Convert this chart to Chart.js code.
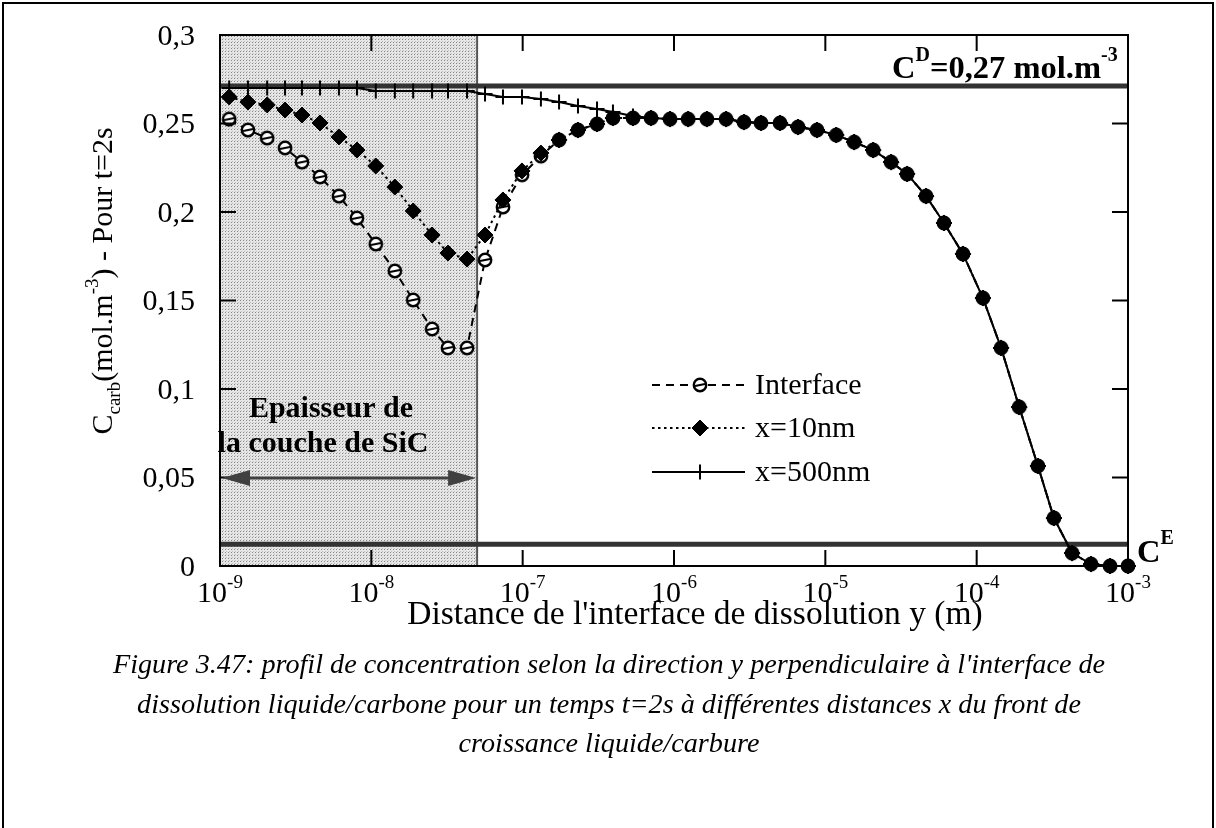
<!DOCTYPE html>
<html>
<head>
<meta charset="utf-8">
<script src="https://cdn.jsdelivr.net/npm/chart.js@4.4.1/dist/chart.umd.min.js"></script>
<style>
html,body{margin:0;padding:0;background:#fff}
canvas{display:block}
</style>
</head>
<body>
<canvas id="c" width="1216" height="828"></canvas>
<script>
// distance y (m), one value per marker
const distY = [1.15e-9, 1.53e-9, 2.05e-9, 2.69e-9, 3.48e-9, 4.58e-9, 6.11e-9, 8.04e-9,
  1.07e-8, 1.43e-8, 1.89e-8, 2.52e-8, 3.21e-8, 4.29e-8, 5.64e-8, 7.41e-8, 9.9e-8,
  1.32e-7, 1.74e-7, 2.32e-7, 3.10e-7, 3.95e-7, 5.36e-7, 7.05e-7, 9.41e-7,
  1.24e-6, 1.65e-6, 2.21e-6, 2.90e-6, 3.76e-6, 5.02e-6, 6.60e-6, 8.81e-6,
  1.18e-5, 1.55e-5, 2.07e-5, 2.72e-5, 3.47e-5, 4.63e-5, 6.08e-5, 8.12e-5,
  1.10e-4, 1.45e-4, 1.91e-4, 2.54e-4, 3.24e-4, 4.27e-4, 5.70e-4, 7.61e-4, 1.0e-3];

const interfaceC = [0.2525, 0.2463, 0.2418, 0.2362, 0.2282, 0.2198, 0.2090, 0.1966,
  0.1819, 0.1667, 0.1503, 0.1339, 0.1232, 0.1232, 0.1729, 0.2028, 0.2210,
  0.2316, 0.2407, 0.2463, 0.2497, 0.2531, 0.2531, 0.2531, 0.2525,
  0.2525, 0.2525, 0.2525, 0.2508, 0.2503, 0.2503, 0.2480, 0.2463,
  0.2435, 0.2395, 0.2350, 0.2282, 0.2215, 0.2090, 0.1938, 0.1763,
  0.1514, 0.1232, 0.0898, 0.0565, 0.0271, 0.0073, 0.0011, 0.0, 0.0];

const x10nmC = [0.2650, 0.2621, 0.2605, 0.2576, 0.2548, 0.2503, 0.2424, 0.2350,
  0.2260, 0.2141, 0.2006, 0.1870, 0.1768, 0.1734, 0.1870, 0.2068, 0.2232,
  0.2333, 0.2407, 0.2463, 0.2497, 0.2531, 0.2531, 0.2531, 0.2525,
  0.2525, 0.2525, 0.2525, 0.2508, 0.2503, 0.2503, 0.2480, 0.2463,
  0.2435, 0.2395, 0.2350, 0.2282, 0.2215, 0.2090, 0.1938, 0.1763,
  0.1514, 0.1232, 0.0898, 0.0565, 0.0271, 0.0073, 0.0011, 0.0, 0.0];

const x500nmC = [0.2701, 0.2701, 0.2701, 0.2701, 0.2701, 0.2701, 0.2701, 0.2701,
  0.2684, 0.2684, 0.2684, 0.2684, 0.2684, 0.2684, 0.2667, 0.2650, 0.2650,
  0.2638, 0.2621, 0.2599, 0.2582, 0.2565, 0.2542, 0.2531, 0.2525,
  0.2525, 0.2525, 0.2525, 0.2508, 0.2503, 0.2503, 0.2480, 0.2463,
  0.2435, 0.2395, 0.2350, 0.2282, 0.2215, 0.2090, 0.1938, 0.1763,
  0.1514, 0.1232, 0.0898, 0.0565, 0.0271, 0.0073, 0.0011, 0.0, 0.0];

const seriesNames = ['Interface', 'x=10nm', 'x=500nm'];
const cD = 0.2712;      // C^D level
const cE = 0.0123;      // C^E level
const layerEdge = 5e-8; // end of the SiC layer
const xTicks = [1e-9, 1e-8, 1e-7, 1e-6, 1e-5, 1e-4, 1e-3];
const xTickExp = ['-9', '-8', '-7', '-6', '-5', '-4', '-3'];
const yTicks = [0, 0.05, 0.1, 0.15, 0.2, 0.25, 0.3];
const yTickLabels = ['0', '0,05', '0,1', '0,15', '0,2', '0,25', '0,3'];

const serif = '"Liberation Serif", "Times New Roman", serif';

// open circle with a bar, like the Interface markers
const ring = document.createElement('canvas');
ring.width = ring.height = 18;
(function () {
  const r = ring.getContext('2d');
  r.fillStyle = '#fff'; r.strokeStyle = '#000'; r.lineWidth = 2.4;
  r.beginPath(); r.arc(9, 9, 6.2, 0, Math.PI * 2); r.fill(); r.stroke();
  r.lineWidth = 1.8;
  r.beginPath(); r.moveTo(4, 10); r.lineTo(14, 8); r.stroke();
})();

// stipple for the SiC layer
const stipple = document.createElement('canvas');
stipple.width = stipple.height = 3;
(function () {
  const s = stipple.getContext('2d');
  s.fillStyle = '#e6e6e6'; s.fillRect(0, 0, 3, 3);
  s.fillStyle = '#858585'; s.fillRect(0, 0, 1, 1);
  s.fillStyle = '#c0c0c0'; s.fillRect(1, 2, 1, 1);
})();

const pts = arr => arr.map((v, i) => ({x: distY[i], y: v}));

function rich(ctx, parts, x, y, align) {
  let w = 0;
  parts.forEach(p => {
    ctx.font = (p.b ? 'bold ' : '') + (p.i ? 'italic ' : '') + p.s + 'px ' + serif;
    p.w = ctx.measureText(p.t).width; w += p.w;
  });
  let cx = align === 'center' ? x - w / 2 : align === 'right' ? x - w : x;
  parts.forEach(p => {
    ctx.font = (p.b ? 'bold ' : '') + (p.i ? 'italic ' : '') + p.s + 'px ' + serif;
    ctx.fillText(p.t, cx, y + (p.dy || 0));
    cx += p.w;
  });
}

const layerPlugin = {
  id: 'layer',
  beforeDatasetsDraw(chart) {
    const {ctx, chartArea: a, scales: {x}} = chart;
    const x0 = x.getPixelForValue(1e-9), x1 = x.getPixelForValue(layerEdge);
    ctx.save();
    ctx.fillStyle = ctx.createPattern(stipple, 'repeat');
    ctx.fillRect(x0, a.top, x1 - x0, a.bottom - a.top);
    ctx.strokeStyle = '#555'; ctx.lineWidth = 2;
    ctx.beginPath(); ctx.moveTo(x1, a.top); ctx.lineTo(x1, a.bottom); ctx.stroke();
    ctx.restore();
  }
};

const decorPlugin = {
  id: 'decor',
  afterDraw(chart) {
    const {ctx, chartArea: a, scales: {x, y}} = chart;
    ctx.save();
    // frame
    ctx.strokeStyle = '#000'; ctx.lineWidth = 2;
    ctx.strokeRect(a.left, a.top, a.right - a.left, a.bottom - a.top);
    // inward ticks on all sides
    ctx.beginPath();
    xTicks.forEach(v => {
      const px = x.getPixelForValue(v);
      ctx.moveTo(px, a.bottom); ctx.lineTo(px, a.bottom - 16);
      ctx.moveTo(px, a.top); ctx.lineTo(px, a.top + 16);
    });
    yTicks.forEach(v => {
      const py = y.getPixelForValue(v);
      ctx.moveTo(a.left, py); ctx.lineTo(a.left + 16, py);
      ctx.moveTo(a.right, py); ctx.lineTo(a.right - 16, py);
    });
    ctx.stroke();

    ctx.fillStyle = '#000';
    ctx.textBaseline = 'alphabetic';
    // x tick labels 10^n
    xTicks.forEach((v, i) => {
      rich(ctx, [{t: '10', s: 30}, {t: xTickExp[i], s: 19, dy: -14}],
        x.getPixelForValue(v), a.bottom + 36, 'center');
    });
    // y tick labels
    ctx.font = '30px ' + serif;
    ctx.textAlign = 'right'; ctx.textBaseline = 'middle';
    yTicks.forEach((v, i) => ctx.fillText(yTickLabels[i], 195, y.getPixelForValue(v) + 2));
    ctx.textAlign = 'left'; ctx.textBaseline = 'alphabetic';

    // axis titles
    ctx.font = '33.5px ' + serif;
    ctx.textAlign = 'center'; ctx.textBaseline = 'middle';
    ctx.fillText("Distance de l'interface de dissolution y (m)", 695, 615);
    ctx.textAlign = 'left'; ctx.textBaseline = 'alphabetic';
    ctx.save();
    ctx.translate(112, 281); ctx.rotate(-Math.PI / 2);
    rich(ctx, [{t: 'C', s: 30}, {t: 'carb', s: 19, dy: 8}, {t: '(mol.m', s: 30},
      {t: '-3', s: 19, dy: -14}, {t: ') - Pour t=2s', s: 30}], 0, 0, 'center');
    ctx.restore();

    // C^D and C^E labels
    rich(ctx, [{t: 'C', s: 32.5, b: 1}, {t: 'D', s: 20, b: 1, dy: -17}, {t: '=0,27 mol.m', s: 32.5, b: 1},
      {t: '-3', s: 20, b: 1, dy: -17}], 892, 78, 'left');
    rich(ctx, [{t: 'C', s: 32.5, b: 1}, {t: 'E', s: 20, b: 1, dy: -18}], 1137, 562, 'left');

    // SiC thickness arrow and text
    const ax0 = x.getPixelForValue(1e-9) + 2, ax1 = x.getPixelForValue(layerEdge) - 1, ay = 478;
    ctx.strokeStyle = '#404040'; ctx.fillStyle = '#404040'; ctx.lineWidth = 3;
    ctx.beginPath(); ctx.moveTo(ax0 + 20, ay); ctx.lineTo(ax1 - 20, ay); ctx.stroke();
    ctx.beginPath(); ctx.moveTo(ax0, ay); ctx.lineTo(ax0 + 28, ay - 8); ctx.lineTo(ax0 + 28, ay + 8); ctx.closePath(); ctx.fill();
    ctx.beginPath(); ctx.moveTo(ax1, ay); ctx.lineTo(ax1 - 28, ay - 8); ctx.lineTo(ax1 - 28, ay + 8); ctx.closePath(); ctx.fill();
    ctx.fillStyle = '#000';
    ctx.font = 'bold 30px ' + serif;
    ctx.textAlign = 'center'; ctx.textBaseline = 'middle';
    ctx.fillText('Epaisseur de', 331, 409);
    ctx.fillText('la couche de SiC', 323, 444);

    // legend
    const rows = [385, 428, 472];
    chart.data.datasets.slice(0, 3).forEach((ds, i) => {
      const ly = rows[i];
      ctx.strokeStyle = '#000'; ctx.fillStyle = '#000';
      ctx.lineWidth = ds.borderWidth;
      ctx.setLineDash(ds.borderDash || []);
      ctx.beginPath(); ctx.moveTo(652, ly); ctx.lineTo(745, ly); ctx.stroke();
      ctx.setLineDash([]);
      ctx.lineWidth = ds.pointBorderWidth || 2;
      if (ds.pointStyle === ring) ctx.drawImage(ring, 700 - 9, ly - 9);
      else Chart.helpers.drawPoint(ctx, {pointStyle: ds.pointStyle, radius: ds.pointRadius,
        borderWidth: ds.pointBorderWidth || 2, rotation: 0}, 700, ly);
      ctx.fillStyle = '#000';
      ctx.font = '30px ' + serif; ctx.textAlign = 'left'; ctx.textBaseline = 'middle';
      ctx.fillText(seriesNames[i], 755, ly + 1);
    });

    // caption
    ctx.font = 'italic 28.2px ' + serif;
    ctx.textAlign = 'center'; ctx.textBaseline = 'middle';
    ctx.fillText("Figure 3.47: profil de concentration selon la direction y perpendiculaire à l'interface de", 609, 666);
    ctx.fillText('dissolution liquide/carbone pour un temps t=2s à différentes distances x du front de', 609, 706);
    ctx.fillText('croissance liquide/carbure', 609, 745);

    // outer figure border
    ctx.strokeStyle = '#000'; ctx.lineWidth = 2;
    ctx.beginPath(); ctx.moveTo(3, 840); ctx.lineTo(3, 3); ctx.lineTo(1213, 3); ctx.lineTo(1213, 840); ctx.stroke();
    ctx.restore();
  }
};

new Chart(document.getElementById('c'), {
  type: 'scatter',
  data: {
    datasets: [
      {label: seriesNames[0], data: pts(interfaceC), showLine: true, order: 3, clip: false,
        borderColor: '#000', backgroundColor: '#000', borderWidth: 2, borderDash: [8, 6],
        pointStyle: ring, pointRadius: 7, pointBorderWidth: 2},
      {label: seriesNames[1], data: pts(x10nmC), showLine: true, order: 2, clip: false,
        borderColor: '#000', backgroundColor: '#000', borderWidth: 2, borderDash: [2.5, 3.5],
        pointStyle: 'rectRot', pointRadius: 8, pointBorderWidth: 1},
      {label: seriesNames[2], data: pts(x500nmC), showLine: true, order: 1, clip: false,
        borderColor: '#000', backgroundColor: '#000', borderWidth: 2,
        pointStyle: 'cross', pointRadius: 7.5, pointBorderWidth: 2},
      {label: 'CD', data: [{x: 1e-9, y: cD}, {x: 1e-3, y: cD}], showLine: true, order: 4,
        borderColor: '#333', borderWidth: 5, pointRadius: 0},
      {label: 'CE', data: [{x: 1e-9, y: cE}, {x: 1e-3, y: cE}], showLine: true, order: 4,
        borderColor: '#333', borderWidth: 5, pointRadius: 0}
    ]
  },
  options: {
    responsive: false,
    animation: false,
    layout: {padding: {left: 220, right: 88, top: 35, bottom: 262}},
    plugins: {legend: {display: false}, tooltip: {enabled: false}},
    scales: {
      x: {type: 'logarithmic', min: 1e-9, max: 1e-3, display: false},
      y: {type: 'linear', min: 0, max: 0.3, display: false}
    }
  },
  plugins: [layerPlugin, decorPlugin]
});
</script>
</body>
</html>
